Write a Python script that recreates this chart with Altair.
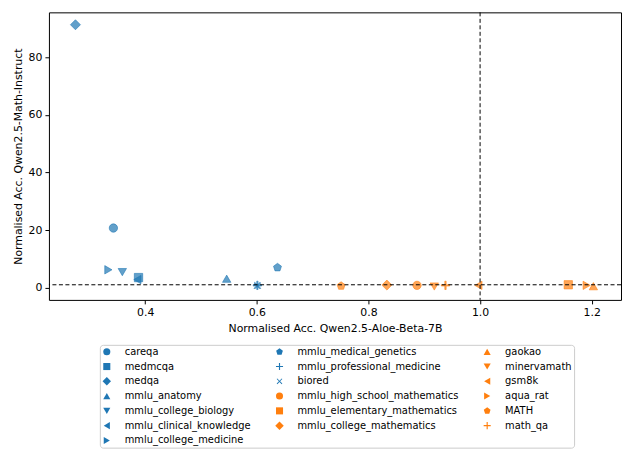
import altair as alt
import pandas as pd

# Legend order (row-major for 3 columns, reproducing column-major layout of reference)
names = [
    "careqa", "mmlu_medical_genetics", "gaokao",
    "medmcqa", "mmlu_professional_medicine", "minervamath",
    "medqa", "biored", "gsm8k",
    "mmlu_anatomy", "mmlu_high_school_mathematics", "aqua_rat",
    "mmlu_college_biology", "mmlu_elementary_mathematics", "MATH",
    "mmlu_clinical_knowledge", "mmlu_college_mathematics", "math_qa",
    "mmlu_college_medicine",
]
x_vals = [
    0.343, 0.637, 1.203,
    0.388, 0.601, 0.918,
    0.275, 0.601, 0.997,
    0.546, 0.887, 1.191,
    0.359, 1.158, 0.751,
    0.386, 0.833, 0.938,
    0.334,
]
y_vals = [
    20.7, 7.0, 0.5,
    3.5, 0.8, 0.4,
    91.3, 0.7, 0.8,
    3.1, 0.8, 0.8,
    5.4, 1.0, 0.6,
    2.8, 0.9, 0.8,
    6.2,
]
groups = [
    "med", "med", "math",
    "med", "med", "math",
    "med", "med", "math",
    "med", "math", "math",
    "med", "math", "math",
    "med", "math", "math",
    "med",
]

BLUE = "#1f77b4"
ORANGE = "#ff7f0e"

PENT = "M0,-1L0.951,-0.309L0.588,0.809L-0.588,0.809L-0.951,-0.309Z"
DIAM = "M0,-1.2L1.2,0L0,1.2L-1.2,0Z"
w = 0.16
PLUS = (f"M{-w},-1L{w},-1L{w},{-w}L1,{-w}L1,{w}L{w},{w}L{w},1L{-w},1L{-w},{w}"
        f"L-1,{w}L-1,{-w}L{-w},{-w}Z")
a = 0.8
d = 0.12
XSYM = (f"M{-a},{-a+d*1.4}L{-a+d*1.4},{-a}L0,{-d*1.4}L{a-d*1.4},{-a}L{a},{-a+d*1.4}"
        f"L{d*1.4},0L{a},{a-d*1.4}L{a-d*1.4},{a}L0,{d*1.4}L{-a+d*1.4},{a}L{-a},{a-d*1.4}"
        f"L{-d*1.4},0Z")

shape_of = {
    "careqa": "circle", "mmlu_high_school_mathematics": "circle",
    "medmcqa": "square", "mmlu_elementary_mathematics": "square",
    "medqa": DIAM, "mmlu_college_mathematics": DIAM,
    "mmlu_anatomy": "triangle-up", "gaokao": "triangle-up",
    "mmlu_college_biology": "triangle-down", "minervamath": "triangle-down",
    "mmlu_clinical_knowledge": "triangle-left", "gsm8k": "triangle-left",
    "mmlu_college_medicine": "triangle-right", "aqua_rat": "triangle-right",
    "mmlu_medical_genetics": PENT, "MATH": PENT,
    "mmlu_professional_medicine": PLUS, "math_qa": PLUS,
    "biored": XSYM,
}

df = pd.DataFrame({"name": names, "x": x_vals, "y": y_vals, "group": groups})
color_range = [BLUE if g == "med" else ORANGE for g in groups]
shape_range = [shape_of[n] for n in names]

FONT = "DejaVu Sans"

legend = alt.Legend(
    title=None, orient="none", columns=3, legendX=51, legendY=333,
    direction="horizontal",
    labelFont=FONT, labelFontSize=9.9, labelColor="black", labelLimit=300,
    symbolSize=50, symbolOpacity=1, symbolStrokeWidth=0,
    labelOffset=13, columnPadding=24, rowPadding=3.8,
    padding=2, strokeColor="#cccccc", fillColor="white", cornerRadius=3,
)

points = alt.Chart(df).mark_point(
    filled=True, size=70, fillOpacity=0.7, strokeOpacity=0.7, strokeWidth=0.8
).encode(
    x=alt.X("x:Q", scale=alt.Scale(domain=[0.2275, 1.2525], nice=False, zero=False),
            axis=alt.Axis(values=[0.4, 0.6, 0.8, 1.0, 1.2], format=".1f",
                          title="Normalised Acc. Qwen2.5-Aloe-Beta-7B")),
    y=alt.Y("y:Q", scale=alt.Scale(domain=[-4.25, 95.6], nice=False, zero=False),
            axis=alt.Axis(values=[0, 20, 40, 60, 80],
                          title="Normalised Acc. Qwen2.5-Math-Instruct")),
    color=alt.Color("name:N", scale=alt.Scale(domain=names, range=color_range), legend=legend),
    shape=alt.Shape("name:N", scale=alt.Scale(domain=names, range=shape_range), legend=legend),
    stroke=alt.Stroke("name:N", scale=alt.Scale(domain=names, range=color_range), legend=None),
)

hline = alt.Chart(pd.DataFrame({"y": [1.0]})).mark_rule(
    color="black", strokeDash=[4, 2.5], strokeWidth=1
).encode(y="y:Q")
vline = alt.Chart(pd.DataFrame({"x": [1.0]})).mark_rule(
    color="black", strokeDash=[4, 2.5], strokeWidth=1
).encode(x="x:Q")

chart = alt.layer(points, hline, vline).properties(
    width=573, height=288,
    autosize=alt.AutoSizeParams(type="none"),
    padding={"left": 41, "top": 4, "right": 5, "bottom": 160},
).configure_view(
    stroke="black", strokeWidth=1
).configure_axis(
    grid=False, domain=False, tickColor="black", tickSize=4, tickWidth=1,
    labelFont=FONT, labelFontSize=10.9, labelColor="black", labelPadding=3,
    titleFont=FONT, titleFontSize=10.9, titleFontWeight="normal", titleColor="black",
    titlePadding=5,
)

chart.save("out.html", embed_options={"renderer": "svg", "actions": False})
